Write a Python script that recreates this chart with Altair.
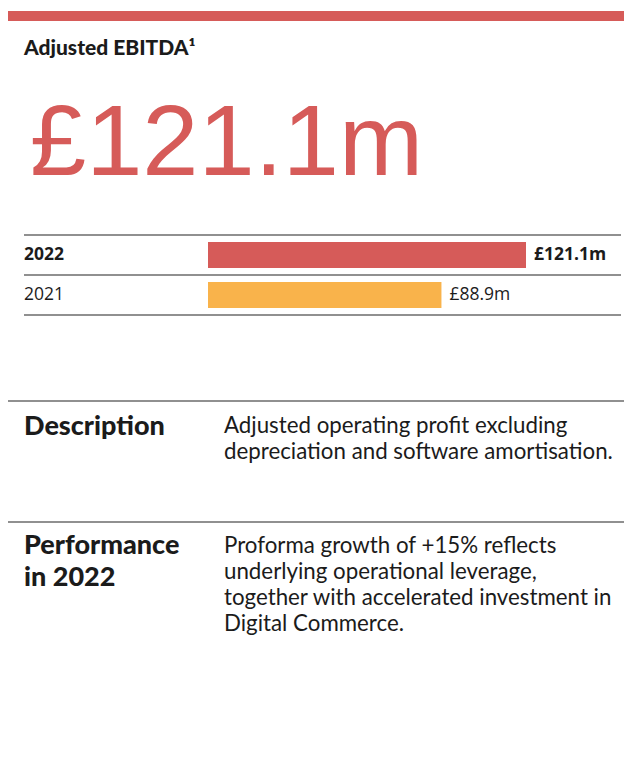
import altair as alt
import pandas as pd

# ---- data ----
years = ["2022", "2021"]
values = [121.1, 88.9]
value_labels = ["£121.1m", "£88.9m"]
current = [True, False]
bar_colors = ["#d65b59", "#f9b34b"]

title_text = "Adjusted EBITDA¹"
headline = "£121.1m"
desc_head = ["Description"]
desc_lines = ["Adjusted operating profit excluding",
              "depreciation and software amortisation."]
perf_head = ["Performance", "in 2022"]
perf_lines = ["Proforma growth of +15% reflects",
              "underlying operational leverage,",
              "together with accelerated investment in",
              "Digital Commerce."]

RED = "#d65b59"
INK = "#1b1b1b"
W, H = 616, 762

df = pd.DataFrame({"year": years, "value": values, "label": value_labels,
                   "current": current, "color": bar_colors})

x_scale = alt.Scale(domain=[0, max(values)], range=[200, 518])
y_scale = alt.Scale(domain=years, range=[227, 307], paddingInner=0.35, paddingOuter=0.175)

X = alt.X("value:Q", scale=x_scale, axis=None)
Y = alt.Y("year:N", scale=y_scale, axis=None, sort=years)

base = alt.Chart(df)
bars = base.mark_bar().encode(x=X, y=Y, color=alt.Color("color:N", scale=None))

lab_font = "Open Sans"
val_bold = base.transform_filter("datum.current").mark_text(
    align="left", baseline="middle", dx=8, font=lab_font, fontSize=17.5,
    fontWeight="bold", color=INK).encode(x=X, y=Y, text="label:N")
val_reg = base.transform_filter("!datum.current").mark_text(
    align="left", baseline="middle", dx=8, font=lab_font, fontSize=17.5,
    color=INK).encode(x=X, y=Y, text="label:N")
yr_bold = base.transform_filter("datum.current").mark_text(
    align="left", baseline="middle", font=lab_font, fontSize=17.5,
    fontWeight="bold", color=INK).encode(x=alt.value(16), y=Y, text="year:N")
yr_reg = base.transform_filter("!datum.current").mark_text(
    align="left", baseline="middle", font=lab_font, fontSize=17.5,
    color=INK).encode(x=alt.value(16), y=Y, text="year:N")

one = alt.Chart(pd.DataFrame({"k": [0]}))

top_band = one.mark_rect(color=RED).encode(
    x=alt.value(0), x2=alt.value(W), y=alt.value(3), y2=alt.value(13))

rules = []
for yy in [227, 267, 307]:
    rules.append(one.mark_rule(color="#6b6b6b", strokeWidth=1.5).encode(
        x=alt.value(16), x2=alt.value(613), y=alt.value(yy)))
for yy in [393, 514]:
    rules.append(one.mark_rule(color="#222222", strokeWidth=1.2).encode(
        x=alt.value(0), x2=alt.value(W), y=alt.value(yy)))

title = one.mark_text(align="left", baseline="alphabetic", font="Lato",
                      fontSize=21, fontWeight=900, color=INK).encode(
    x=alt.value(16), y=alt.value(46.7), text=alt.value(title_text))

big = one.mark_text(align="left", baseline="alphabetic",
                    font="Liberation Sans", fontSize=101, color=RED).encode(
    x=alt.value(22), y=alt.value(167), text=alt.value(headline))

h1 = one.mark_text(align="left", baseline="alphabetic", font="Lato",
                   fontSize=27, fontWeight=900, color=INK, lineHeight=32).encode(
    x=alt.value(16), y=alt.value(427), text=alt.value(desc_head))
h2 = one.mark_text(align="left", baseline="alphabetic", font="Lato",
                   fontSize=27, fontWeight=900, color=INK, lineHeight=32).encode(
    x=alt.value(16), y=alt.value(546.3), text=alt.value(perf_head))

b1 = one.mark_text(align="left", baseline="alphabetic", font="Lato",
                   fontSize=22.3, color=INK, lineHeight=26).encode(
    x=alt.value(216), y=alt.value(425), text=alt.value(desc_lines))
b2 = one.mark_text(align="left", baseline="alphabetic", font="Lato",
                   fontSize=22.3, color=INK, lineHeight=26).encode(
    x=alt.value(216), y=alt.value(545.3), text=alt.value(perf_lines))

chart = alt.layer(top_band, *rules, bars, val_bold, val_reg, yr_bold, yr_reg,
                  title, big, h1, h2, b1, b2).properties(
    width=W, height=H, padding=0, autosize="none", background="white"
).configure_view(stroke=None)

chart.save("out.html", embed_options={"renderer": "svg", "actions": False})
